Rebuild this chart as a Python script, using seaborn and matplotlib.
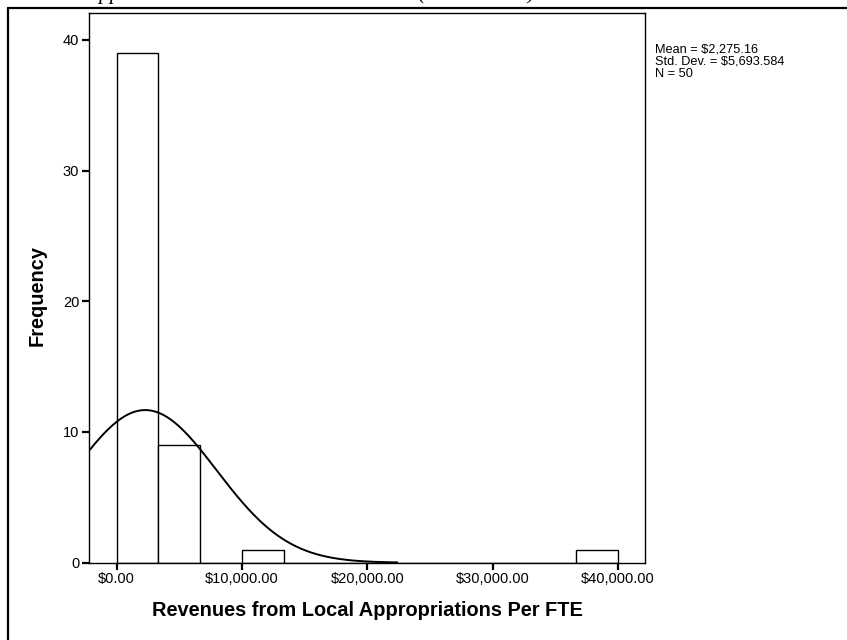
import numpy as np
import pandas as pd
import matplotlib
matplotlib.use("Agg")
import matplotlib.pyplot as plt
import seaborn as sns
from matplotlib.lines import Line2D

# ---- data ----
bin_width = 10000.0 / 3.0
bin_edges = [i * bin_width for i in range(13)]          # $0 .. $40,000 in 12 bins
bin_counts = [39, 9, 0, 1, 0, 0, 0, 0, 0, 0, 0, 1]
mean_val = 2275.16
sd_val = 5693.584
n_val = 50
x_ticks = [0, 10000, 20000, 30000, 40000]
x_tick_labels = ["$0.00", "$10,000.00", "$20,000.00", "$30,000.00", "$40,000.00"]
y_ticks = [0, 10, 20, 30, 40]
stats_lines = ["Mean = $2,275.16", "Std. Dev. = $5,693.584", "N = 50"]
x_label = "Revenues from Local Appropriations Per FTE"
y_label = "Frequency"

sns.set_theme(style="white")
plt.rcParams["font.family"] = ["Liberation Sans", "DejaVu Sans"]
plt.rcParams["text.color"] = "black"
plt.rcParams["axes.labelcolor"] = "black"

fig = plt.figure(figsize=(8.47, 6.40), dpi=100)
fig.patch.set_facecolor("white")
ax = fig.add_axes([89 / 847, 1 - 562.7 / 640, (645 - 89) / 847, (562.7 - 12.7) / 640])

bin_mids = [(bin_edges[i] + bin_edges[i + 1]) / 2 for i in range(len(bin_counts))]
df = pd.DataFrame({"value": bin_mids, "count": bin_counts})
sns.histplot(data=df, x="value", weights="count", bins=bin_edges, ax=ax,
             color="white", edgecolor="black", linewidth=1.0, alpha=1.0)

# normal curve defined by the shown mean / std. dev. / N
xs = np.linspace(-2210, 22400, 400)
ys = n_val * bin_width / (sd_val * np.sqrt(2 * np.pi)) * np.exp(-0.5 * ((xs - mean_val) / sd_val) ** 2)
sns.lineplot(x=xs, y=ys, ax=ax, color="black", linewidth=1.4)

ax.set_xlim(-2210, 42170)
ax.set_ylim(0, 42.08)
ax.set_xticks(x_ticks)
ax.set_xticklabels(x_tick_labels, fontsize=10.5)
ax.set_yticks(y_ticks)
ax.set_yticklabels([str(v) for v in y_ticks], fontsize=10.5)
ax.tick_params(axis="both", direction="out", length=5, width=1.6, color="black",
               labelcolor="black", pad=2, bottom=True, left=True)
for s in ax.spines.values():
    s.set_visible(True)
    s.set_color("black")
    s.set_linewidth(1.0)
ax.grid(False)
ax.set_facecolor("white")
ax.set_xlabel(x_label, fontsize=14.4, fontweight="bold", va="center", color="black")
ax.xaxis.set_label_coords(0.5, (562.7 - 611) / 550)
ax.set_ylabel(y_label, fontsize=14.4, fontweight="bold", va="center", color="black")
ax.yaxis.set_label_coords((37 - 89) / 556, (562.7 - 295) / 550)

# stats box text to the right of the plot
for i, line in enumerate(stats_lines):
    fig.text(655 / 847, 1 - (49 + 12.5 * i) / 640, line, fontsize=9.2, ha="left",
             va="center", color="black")

# outer frame (cropped: only top and left visible)
fig.add_artist(Line2D([8 / 847, 1.0], [1 - 8 / 640, 1 - 8 / 640], transform=fig.transFigure,
                      color="black", linewidth=1.6))
fig.add_artist(Line2D([8 / 847, 8 / 847], [1 - 8 / 640, 0.0], transform=fig.transFigure,
                      color="black", linewidth=1.6))

# cropped caption above the frame (only its lowest part is visible)
fig.text(86 / 847, 1 + 1 / 640, "Appendix C. Local Revenues Per FTE (FY 2005-06)",
         fontsize=15.5, style="italic", family=["Liberation Serif", "DejaVu Serif"],
         ha="left", va="baseline", color="black")

fig.savefig("out.png", dpi=100, facecolor="white")
